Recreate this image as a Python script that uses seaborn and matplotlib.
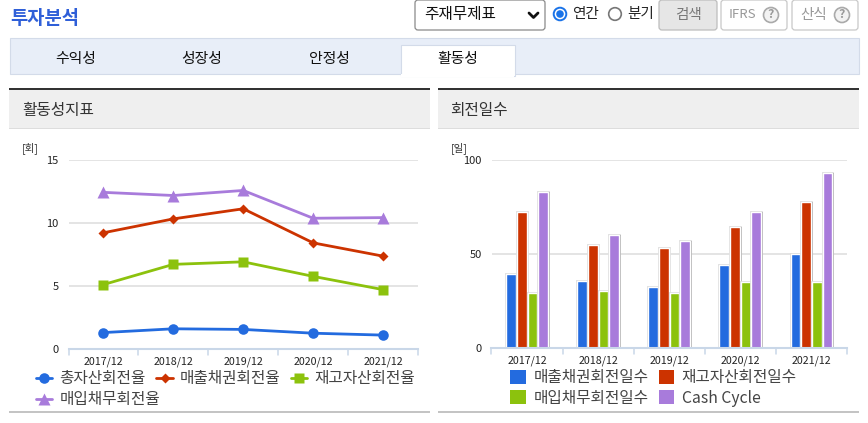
import matplotlib
matplotlib.use("Agg")
import matplotlib.pyplot as plt
import matplotlib.patheffects as pe
from matplotlib.patches import Rectangle, FancyBboxPatch, Circle
import pandas as pd
import seaborn as sns

W, H = 868, 423

periods = ["2017/12", "2018/12", "2019/12", "2020/12", "2021/12"]

# left chart (turnover ratios)
asset_turn = [1.3, 1.6, 1.55, 1.25, 1.1]
receivable_turn = [9.2, 10.3, 11.1, 8.4, 7.35]
inventory_turn = [5.1, 6.7, 6.9, 5.75, 4.7]
payable_turn = [12.4, 12.15, 12.55, 10.35, 10.4]

# right chart (days)
receivable_days = [39.5, 35.5, 32.5, 44, 50]
inventory_days = [72, 54.5, 53, 64, 77.5]
payable_days = [29, 30, 29, 35, 35]
cash_cycle = [82.5, 60, 57, 72, 93]

line_names = ["총자산회전율", "매출채권회전율", "재고자산회전율", "매입채무회전율"]
bar_names = ["매출채권회전일수", "재고자산회전일수", "매입채무회전일수", "Cash Cycle"]
tabs = ["수익성", "성장성", "안정성"]

BLUE, RED, GREEN, PURPLE = "#236bdf", "#cc3300", "#8cc20d", "#a87bdb"
colors = [BLUE, RED, GREEN, PURPLE]
markers = ["o", "D", "s", "^"]
msizes = [7.6, 5, 7.8, 8]

sns.set_theme(style="white")
plt.rcParams["font.family"] = ["Noto Sans CJK KR", "DejaVu Sans"]

fig = plt.figure(figsize=(W / 100, H / 100), dpi=100)
bg = fig.add_axes([0, 0, 1, 1], zorder=0)
bg.set_xlim(0, W)
bg.set_ylim(H, 0)
bg.axis("off")


def rect(x0, y0, x1, y1, fc, ec="none", lw=0, z=1):
    bg.add_patch(Rectangle((x0, y0), x1 - x0, y1 - y0, fc=fc, ec=ec, lw=lw, zorder=z))


def button(x0, y0, x1, y1, fc="white", ec="#c8c8c8"):
    bg.add_patch(FancyBboxPatch((x0 + 3, y0 + 3), x1 - x0 - 6, y1 - y0 - 6,
                                boxstyle="round,pad=3", fc=fc, ec=ec, lw=0.9, zorder=2))


def add_axes_px(x0, y0, x1, y1):
    ax = fig.add_axes([x0 / W, 1 - y1 / H, (x1 - x0) / W, (y1 - y0) / H], zorder=2)
    ax.patch.set_alpha(0)
    return ax


def style_axis(ax, ticks, top):
    ax.set_ylim(0, top)
    ax.set_xlim(-0.5, 4.5)
    ax.set_yticks(ticks)
    ax.set_xticks(range(5))
    ax.set_xticklabels(periods)
    ax.set_xlabel("")
    ax.set_ylabel("")
    ax.grid(axis="y", color="#dfdfdf", lw=1.2)
    ax.set_axisbelow(True)
    for s in ["top", "right", "left"]:
        ax.spines[s].set_visible(False)
    ax.spines["bottom"].set_color("#c9d7e8")
    ax.spines["bottom"].set_linewidth(1.5)
    ax.tick_params(axis="y", length=0, labelsize=8, pad=7, colors="#222222")
    ax.tick_params(axis="x", length=0, labelsize=7.7, pad=5.5, colors="#222222")
    for x in [-0.5, 0.5, 1.5, 2.5, 3.5, 4.5]:
        ax.plot([x, x], [0, -0.032], color="#c9d7e8", lw=1.1, clip_on=False,
                transform=ax.get_xaxis_transform())


# header
bg.text(10, 19, "투자분석", fontsize=13.5, fontweight="bold", color="#2f5fd8", va="center")
button(415, 0, 545, 30, ec="#8a8a8a")
bg.text(424, 15, "주재무제표", fontsize=11.3, color="#111111", va="center", zorder=3)
bg.plot([529, 533.5, 538], [13, 17.5, 13], color="#111111", lw=2, zorder=3)
bg.add_patch(Circle((560, 14), 6.3, fc="white", ec="#1a73e8", lw=1.4, zorder=3))
bg.add_patch(Circle((560, 14), 3.8, fc="#1a73e8", ec="none", zorder=4))
bg.text(572, 14, "연간", fontsize=10.5, color="#222222", va="center")
bg.add_patch(Circle((615, 14), 6.3, fc="white", ec="#777777", lw=1.2, zorder=3))
bg.text(627, 14, "분기", fontsize=10.5, color="#222222", va="center")
button(659, 0, 717, 30, fc="#e6e6e6", ec="#bdbdbd")
bg.text(688, 15, "검색", fontsize=10.5, color="#777777", va="center", ha="center", zorder=3)
button(721, 0, 787, 30)
bg.text(729, 15, "IFRS", fontsize=9.5, color="#999999", va="center", zorder=3)
button(792, 0, 858, 30)
bg.text(800, 15, "산식", fontsize=10.5, color="#999999", va="center", zorder=3)
for cx in [771, 842]:
    bg.add_patch(Circle((cx, 15), 7.5, fc="#f2f2f2", ec="#aaaaaa", lw=1.2, zorder=3))
    bg.text(cx, 15, "?", fontsize=9, fontweight="bold", color="#999999",
            ha="center", va="center", zorder=4)

# tab strip
rect(9.5, 38.5, 858.5, 74.5, "#e8eef8", "#d3dbe9", 0.8)
rect(400.5, 45.5, 514.5, 76, "white", "#d3dbe9", 0.8, z=2)
rect(401, 74, 514, 77, "white", z=3)
for name, cx in zip(tabs, [75.5, 202, 329.5]):
    bg.text(cx, 59.5, name, fontsize=10.7, color="#111111", ha="center", va="center")
bg.text(457.5, 59.5, "활동성", fontsize=10.7, color="#111111", ha="center", va="center", zorder=4)

# panel headers
for x0, x1, title, tx in [(9, 430, "활동성지표", 22), (438, 859, "회전일수", 450)]:
    rect(x0, 90, x1, 128, "#efefef")
    rect(x0, 88, x1, 90.5, "#333333", z=2)
    rect(x0, 128, x1, 129, "#dddddd", z=2)
    rect(x0, 411, x1, 413, "#c4c4c4", z=2)
    bg.text(tx, 110, title, fontsize=11.3, color="#333333", va="center")
bg.text(22, 148, "[회]", fontsize=7.5, color="#333333", va="center")
bg.text(451, 148, "[일]", fontsize=7.5, color="#333333", va="center")

# left chart
line_df = pd.DataFrame({"period": periods * 4,
                        "kind": [n for n in line_names for _ in periods],
                        "value": asset_turn + receivable_turn + inventory_turn + payable_turn})
ax1 = add_axes_px(68.5, 159.5, 418, 349)
sns.lineplot(data=line_df, x="period", y="value", hue="kind", style="kind",
             hue_order=line_names, style_order=line_names, palette=colors,
             markers=dict(zip(line_names, markers)), dashes=False, lw=2,
             markeredgecolor="none", ax=ax1, legend=False, sort=False, clip_on=False)
for line, ms in zip(ax1.lines, msizes):
    line.set_markersize(ms)
style_axis(ax1, [0, 5, 10, 15], 15)
handles = [plt.Line2D([], [], color=c, marker=m, ms=ms, lw=2, mec="none")
           for c, m, ms in zip(colors, markers, msizes)]
# two legends, the columns of one would take the width of the longer label
leg_opts = dict(loc="upper left", frameon=False, fontsize=11.3, labelcolor="#444444",
                handlelength=1.03, handletextpad=0.45, columnspacing=0.7,
                borderpad=0, borderaxespad=0)
first_row = ax1.legend(handles[:3], line_names[:3], bbox_to_anchor=(-0.093, -0.112), ncol=3, **leg_opts)
ax1.add_artist(first_row)
ax1.legend(handles[3:], line_names[3:], bbox_to_anchor=(-0.093, -0.223), **leg_opts)

# right chart
bar_df = pd.DataFrame({"period": periods * 4,
                       "kind": [n for n in bar_names for _ in periods],
                       "value": receivable_days + inventory_days + payable_days + cash_cycle})
ax2 = add_axes_px(491.5, 159.5, 847, 348)
sns.barplot(data=bar_df, x="period", y="value", hue="kind", hue_order=bar_names, palette=colors,
            width=0.6, gap=0.09, saturation=1, ax=ax2, legend=False, errorbar=None)
for bar in ax2.patches:
    bar.set_path_effects([pe.Stroke(linewidth=2, foreground="#dcdcdc"),
                          pe.SimplePatchShadow(offset=(1.2, 0), shadow_rgbFace="#777777", alpha=0.4),
                          pe.Normal()])
style_axis(ax2, [0, 50, 100], 100)
order = [0, 2, 1, 3]
handles = [plt.Rectangle((0, 0), 1, 1, fc=colors[i], ec="none") for i in order]
ax2.legend(handles, [bar_names[i] for i in order], loc="upper left", bbox_to_anchor=(0.053, -0.112),
           ncol=2, frameon=False, fontsize=11.3, labelcolor="#444444", handlelength=0.97,
           handleheight=0.97, handletextpad=0.5, columnspacing=0.65, labelspacing=0.22,
           borderpad=0, borderaxespad=0)

fig.savefig("out.png", dpi=100)
